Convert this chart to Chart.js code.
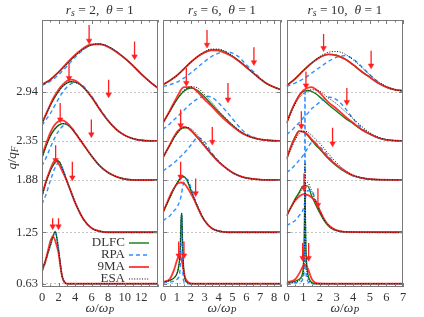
<!DOCTYPE html>
<html>
<head>
<meta charset="utf-8">
<script src="https://cdn.jsdelivr.net/npm/chart.js@4.4.1/dist/chart.umd.min.js"></script>
<style>
html, body { margin: 0; padding: 0; background: #fff; }
body { width: 424px; height: 317px; position: relative; overflow: hidden; }
.panel { position: absolute; top: 0; height: 317px; }
</style>
</head>
<body>
<div class="panel" style="left:0;width:170px"><canvas id="c0"></canvas></div>
<div class="panel" style="left:150px;width:145px"><canvas id="c1"></canvas></div>
<div class="panel" style="left:274px;width:150px"><canvas id="c2"></canvas></div>
<script>
'use strict';

// baselines (q/q_F) each curve is shifted to, also the y tick labels
const qValues = [0.63, 1.25, 1.88, 2.35, 2.94];
const rsValues = [2, 6, 10];

// heights above the baseline
// ---------------- r_s = 2 ----------------
const w2_294 = [0, 1, 2, 3, 4, 5, 6, 7, 8, 9, 10, 11, 12, 13, 14];
const dlfc2_294 = [0.09, 0.15, 0.24, 0.34, 0.44, 0.52, 0.57, 0.58, 0.55, 0.49, 0.41, 0.32, 0.22, 0.13, 0.05];
const rpa2_294 = [0.08, 0.13, 0.21, 0.31, 0.42, 0.51, 0.57, 0.58, 0.55, 0.49, 0.41, 0.32, 0.22, 0.13, 0.05];
const ma2_294 = [0.09, 0.15, 0.24, 0.35, 0.45, 0.53, 0.575, 0.575, 0.545, 0.485, 0.41, 0.32, 0.22, 0.13, 0.05];
const esa2_294 = [0.09, 0.15, 0.24, 0.34, 0.44, 0.52, 0.57, 0.58, 0.55, 0.49, 0.41, 0.32, 0.22, 0.13, 0.05];

const w2_235 = [0, 0.5, 1, 1.5, 2, 2.5, 3, 3.5, 4, 5, 6, 7, 8, 9, 10, 11, 12, 14];
const dlfc2_235 = [0.215, 0.32, 0.43, 0.52, 0.60, 0.66, 0.70, 0.715, 0.71, 0.65, 0.53, 0.38, 0.245, 0.14, 0.07, 0.03, 0.01, 0];
const rpa2_235 = [0.19, 0.26, 0.33, 0.42, 0.51, 0.59, 0.65, 0.69, 0.70, 0.66, 0.54, 0.39, 0.25, 0.14, 0.07, 0.03, 0.01, 0];
const ma2_235 = [0.215, 0.33, 0.44, 0.54, 0.62, 0.68, 0.725, 0.74, 0.73, 0.65, 0.53, 0.38, 0.245, 0.14, 0.07, 0.03, 0.01, 0];
const esa2_235 = [0.215, 0.32, 0.43, 0.52, 0.60, 0.66, 0.70, 0.715, 0.71, 0.65, 0.53, 0.38, 0.245, 0.14, 0.07, 0.03, 0.01, 0];

const w2_188 = [0, 0.5, 1, 1.5, 2, 2.5, 3, 3.5, 4, 5, 6, 7, 8, 9, 10, 12, 14];
const dlfc2_188 = [0.27, 0.41, 0.53, 0.61, 0.66, 0.68, 0.67, 0.63, 0.57, 0.43, 0.29, 0.17, 0.09, 0.04, 0.012, 0, 0];
const rpa2_188 = [0.17, 0.27, 0.39, 0.50, 0.59, 0.65, 0.67, 0.64, 0.58, 0.43, 0.29, 0.17, 0.09, 0.04, 0.012, 0, 0];
const ma2_188 = [0.29, 0.44, 0.57, 0.66, 0.71, 0.72, 0.69, 0.64, 0.57, 0.43, 0.29, 0.17, 0.09, 0.04, 0.012, 0, 0];
const esa2_188 = [0.27, 0.41, 0.53, 0.61, 0.66, 0.68, 0.67, 0.63, 0.57, 0.43, 0.29, 0.17, 0.09, 0.04, 0.012, 0, 0];

const w2_125 = [0, 0.5, 1, 1.25, 1.5, 1.75, 2, 2.5, 3, 3.5, 4, 5, 6, 7, 8, 14];
const dlfc2_125 = [0.44, 0.61, 0.74, 0.79, 0.83, 0.86, 0.86, 0.76, 0.62, 0.49, 0.36, 0.16, 0.05, 0.012, 0, 0];
const rpa2_125 = [0.34, 0.46, 0.62, 0.69, 0.76, 0.81, 0.84, 0.77, 0.63, 0.49, 0.36, 0.16, 0.05, 0.012, 0, 0];
const ma2_125 = [0.44, 0.62, 0.76, 0.82, 0.86, 0.86, 0.83, 0.73, 0.62, 0.49, 0.36, 0.16, 0.05, 0.012, 0, 0];
const esa2_125 = [0.44, 0.61, 0.74, 0.79, 0.83, 0.86, 0.86, 0.76, 0.62, 0.49, 0.36, 0.16, 0.05, 0.012, 0, 0];

const w2_063 = [0, 0.4, 0.8, 1.0, 1.3, 1.6, 1.8, 2.0, 2.2, 2.4, 2.6, 2.8, 3.0, 4, 14];
const dlfc2_063 = [0.165, 0.27, 0.40, 0.46, 0.56, 0.63, 0.55, 0.41, 0.25, 0.10, 0.04, 0.01, 0, 0, 0];
const rpa2_063 = [0.15, 0.25, 0.39, 0.45, 0.55, 0.63, 0.56, 0.42, 0.26, 0.11, 0.04, 0.01, 0, 0, 0];
const ma2_063 = [0.15, 0.27, 0.43, 0.51, 0.57, 0.52, 0.45, 0.37, 0.23, 0.11, 0.04, 0.01, 0, 0, 0];
const esa2_063 = [0.165, 0.27, 0.40, 0.46, 0.56, 0.63, 0.55, 0.41, 0.25, 0.10, 0.04, 0.01, 0, 0, 0];

// ---------------- r_s = 6 ----------------
const w6_294 = [0, 0.5, 1, 1.5, 2, 2.5, 3, 3.5, 4, 4.5, 5, 5.5, 6, 6.5, 7, 7.5, 8, 8.5];
const dlfc6_294 = [0.09, 0.14, 0.20, 0.28, 0.36, 0.43, 0.48, 0.51, 0.51, 0.48, 0.43, 0.37, 0.30, 0.23, 0.16, 0.10, 0.06, 0.03];
const rpa6_294 = [0.07, 0.09, 0.12, 0.17, 0.23, 0.30, 0.37, 0.43, 0.47, 0.49, 0.47, 0.42, 0.33, 0.25, 0.17, 0.10, 0.06, 0.03];
const ma6_294 = [0.09, 0.14, 0.20, 0.28, 0.36, 0.43, 0.48, 0.505, 0.50, 0.47, 0.43, 0.37, 0.30, 0.23, 0.16, 0.10, 0.06, 0.03];
const esa6_294 = [0.09, 0.14, 0.20, 0.28, 0.36, 0.43, 0.49, 0.52, 0.52, 0.49, 0.44, 0.38, 0.31, 0.23, 0.16, 0.10, 0.06, 0.03];

const w6_235 = [0, 0.5, 1, 1.5, 2, 2.5, 3, 3.5, 4, 4.5, 5, 5.5, 6, 6.5, 7, 7.5, 8, 8.5];
const dlfc6_235 = [0.22, 0.36, 0.50, 0.60, 0.64, 0.61, 0.53, 0.44, 0.35, 0.27, 0.19, 0.12, 0.07, 0.04, 0.02, 0.01, 0.004, 0];
const rpa6_235 = [0.14, 0.21, 0.29, 0.37, 0.45, 0.51, 0.54, 0.53, 0.46, 0.37, 0.27, 0.17, 0.09, 0.05, 0.02, 0.01, 0.004, 0];
const ma6_235 = [0.22, 0.37, 0.53, 0.65, 0.65, 0.59, 0.50, 0.42, 0.33, 0.25, 0.18, 0.115, 0.07, 0.04, 0.02, 0.01, 0.004, 0];
const esa6_235 = [0.22, 0.36, 0.50, 0.61, 0.655, 0.64, 0.56, 0.47, 0.37, 0.28, 0.20, 0.13, 0.075, 0.04, 0.02, 0.01, 0.004, 0];

const w6_188 = [0, 0.25, 0.5, 0.75, 1, 1.25, 1.5, 1.75, 2, 2.5, 3, 3.5, 4, 4.5, 5, 5.5, 6, 7, 8.5];
const dlfc6_188 = [0.27, 0.35, 0.42, 0.50, 0.56, 0.61, 0.63, 0.63, 0.60, 0.51, 0.41, 0.31, 0.22, 0.15, 0.09, 0.05, 0.025, 0.005, 0];
const rpa6_188 = [0.11, 0.14, 0.17, 0.20, 0.24, 0.28, 0.32, 0.37, 0.42, 0.51, 0.46, 0.33, 0.23, 0.15, 0.09, 0.05, 0.025, 0.005, 0];
const ma6_188 = [0.27, 0.35, 0.43, 0.51, 0.58, 0.62, 0.64, 0.63, 0.60, 0.51, 0.41, 0.31, 0.22, 0.15, 0.09, 0.05, 0.025, 0.005, 0];
const esa6_188 = [0.27, 0.35, 0.42, 0.50, 0.56, 0.61, 0.63, 0.635, 0.62, 0.54, 0.43, 0.32, 0.23, 0.15, 0.09, 0.05, 0.025, 0.005, 0];

const w6_125 = [0, 0.25, 0.5, 0.75, 1, 1.25, 1.5, 1.75, 2, 2.25, 2.5, 2.75, 3, 3.5, 4, 5, 8.5];
const dlfc6_125 = [0.24, 0.33, 0.42, 0.51, 0.59, 0.65, 0.67, 0.62, 0.51, 0.40, 0.30, 0.21, 0.14, 0.05, 0.015, 0, 0];
const rpa6_125 = [0.14, 0.17, 0.20, 0.25, 0.30, 0.40, 0.60, 0.64, 0.54, 0.42, 0.31, 0.22, 0.14, 0.05, 0.015, 0, 0];
const ma6_125 = [0.24, 0.34, 0.44, 0.52, 0.58, 0.60, 0.59, 0.54, 0.47, 0.39, 0.30, 0.21, 0.14, 0.05, 0.015, 0, 0];
const esa6_125 = [0.24, 0.33, 0.42, 0.51, 0.59, 0.65, 0.67, 0.63, 0.52, 0.41, 0.31, 0.22, 0.14, 0.05, 0.015, 0, 0];

const w6_063 = [0, 0.5, 0.8, 1.0, 1.1, 1.2, 1.25, 1.3, 1.35, 1.4, 1.45, 1.5, 1.6, 1.8, 2.0, 2.5, 8.5];
const dlfc6_063 = [0.02, 0.04, 0.07, 0.12, 0.18, 0.30, 0.45, 0.75, 0.85, 0.55, 0.30, 0.16, 0.05, 0.01, 0, 0, 0];
const rpa6_063 = [0.01, 0.02, 0.03, 0.05, 0.07, 0.12, 0.25, 0.60, 0.85, 0.30, 0.08, 0.03, 0.01, 0, 0, 0, 0];
const ma6_063 = [0.02, 0.06, 0.17, 0.28, 0.32, 0.33, 0.325, 0.31, 0.28, 0.24, 0.19, 0.14, 0.07, 0.02, 0.005, 0, 0];
const esa6_063 = [0.02, 0.04, 0.07, 0.12, 0.18, 0.30, 0.45, 0.75, 0.85, 0.55, 0.30, 0.16, 0.05, 0.01, 0, 0, 0];

// ---------------- r_s = 10 ----------------
const w10_294 = [0, 0.5, 1, 1.5, 2, 2.5, 3, 3.5, 4, 4.5, 5, 5.5, 6, 6.5, 7];
const dlfc10_294 = [0.08, 0.16, 0.26, 0.35, 0.42, 0.455, 0.445, 0.40, 0.33, 0.25, 0.18, 0.11, 0.06, 0.03, 0.016];
const rpa10_294 = [0.07, 0.11, 0.16, 0.23, 0.30, 0.37, 0.42, 0.44, 0.40, 0.31, 0.21, 0.12, 0.06, 0.03, 0.016];
const ma10_294 = [0.08, 0.16, 0.26, 0.35, 0.42, 0.455, 0.44, 0.40, 0.33, 0.25, 0.18, 0.11, 0.06, 0.03, 0.016];
const esa10_294 = [0.08, 0.16, 0.26, 0.35, 0.43, 0.48, 0.49, 0.46, 0.39, 0.30, 0.21, 0.13, 0.07, 0.03, 0.016];

const w10_235 = [0, 0.25, 0.5, 0.75, 1, 1.25, 1.5, 1.75, 2, 2.5, 3, 3.5, 4, 4.5, 5, 5.5, 6, 7];
const dlfc10_235 = [0.22, 0.35, 0.46, 0.55, 0.60, 0.61, 0.60, 0.57, 0.53, 0.44, 0.36, 0.28, 0.21, 0.14, 0.085, 0.04, 0.015, 0];
const rpa10_235 = [0.08, 0.12, 0.17, 0.22, 0.28, 0.33, 0.39, 0.43, 0.47, 0.53, 0.50, 0.40, 0.27, 0.16, 0.09, 0.04, 0.015, 0];
const ma10_235 = [0.22, 0.35, 0.46, 0.55, 0.61, 0.64, 0.65, 0.625, 0.58, 0.47, 0.39, 0.30, 0.22, 0.14, 0.085, 0.04, 0.015, 0];
const esa10_235 = [0.22, 0.34, 0.44, 0.52, 0.57, 0.60, 0.62, 0.615, 0.60, 0.52, 0.45, 0.36, 0.27, 0.18, 0.10, 0.05, 0.02, 0];

const w10_188 = [0, 0.25, 0.5, 0.75, 1, 1.25, 1.5, 1.75, 2, 2.5, 3, 3.5, 4, 4.5, 5, 7];
const dlfc10_188 = [0.26, 0.40, 0.52, 0.59, 0.58, 0.54, 0.48, 0.42, 0.37, 0.26, 0.17, 0.10, 0.05, 0.025, 0.01, 0];
const rpa10_188 = [0.09, 0.13, 0.18, 0.24, 0.30, 0.38, 0.45, 0.44, 0.40, 0.29, 0.18, 0.10, 0.05, 0.025, 0.01, 0];
const ma10_188 = [0.26, 0.40, 0.51, 0.59, 0.585, 0.55, 0.49, 0.44, 0.38, 0.27, 0.18, 0.11, 0.055, 0.025, 0.01, 0];
const esa10_188 = [0.25, 0.37, 0.48, 0.56, 0.59, 0.58, 0.54, 0.49, 0.44, 0.32, 0.21, 0.12, 0.06, 0.03, 0.01, 0];

const w10_125 = [0, 0.25, 0.5, 0.75, 1, 1.25, 1.5, 1.75, 2, 2.25, 2.5, 2.75, 3, 3.5, 7];
const dlfc10_125 = [0.20, 0.30, 0.40, 0.48, 0.56, 0.56, 0.44, 0.33, 0.23, 0.14, 0.08, 0.04, 0.02, 0.005, 0];
const rpa10_125 = [0.08, 0.11, 0.14, 0.20, 0.28, 0.50, 0.50, 0.38, 0.26, 0.15, 0.09, 0.045, 0.02, 0.005, 0];
const ma10_125 = [0.20, 0.30, 0.38, 0.43, 0.46, 0.45, 0.42, 0.37, 0.26, 0.16, 0.09, 0.05, 0.025, 0.005, 0];
const esa10_125 = [0.20, 0.29, 0.38, 0.46, 0.55, 0.60, 0.50, 0.37, 0.25, 0.15, 0.09, 0.045, 0.02, 0.005, 0];

const w10_063 = [0, 0.5, 0.8, 0.9, 0.95, 1.0, 1.05, 1.08, 1.1, 1.12, 1.15, 1.2, 1.25, 1.3, 1.4, 1.5, 1.6, 1.8, 2.5, 7];
const dlfc10_063 = [0.01, 0.03, 0.06, 0.09, 0.12, 0.20, 0.50, 0.90, 1.10, 0.80, 0.45, 0.25, 0.15, 0.09, 0.04, 0.015, 0.005, 0, 0, 0];
const rpa10_063 = [0.005, 0.01, 0.02, 0.03, 0.05, 0.08, 0.20, 0.80, 2.35, 0.90, 0.20, 0.08, 0.04, 0.02, 0.01, 0, 0, 0, 0, 0];
const ma10_063 = [0.02, 0.05, 0.14, 0.18, 0.20, 0.22, 0.23, 0.23, 0.23, 0.23, 0.22, 0.21, 0.19, 0.17, 0.11, 0.06, 0.03, 0.005, 0, 0];
const esa10_063 = [0.005, 0.02, 0.04, 0.06, 0.08, 0.12, 0.30, 0.90, 1.45, 1.20, 0.50, 0.20, 0.10, 0.05, 0.02, 0.01, 0, 0, 0, 0];

// red arrows: [omega, top of shaft, tip] in q/q_F units
const arrows2 = [[5.7, 3.75, 3.56], [11.2, 3.55, 3.37], [3.27, 3.29, 3.11], [8.06, 3.09, 2.91],
	[2.2, 2.81, 2.61], [5.97, 2.61, 2.43], [1.65, 2.30, 2.12], [3.67, 2.10, 1.91], [1.29, 1.42, 1.32], [2.0, 1.42, 1.32]];
const arrows6 = [[3.17, 3.69, 3.51], [6.55, 3.48, 3.30], [1.68, 3.23, 3.05], [4.68, 3.05, 2.85],
	[1.27, 2.73, 2.54], [3.55, 2.52, 2.34], [1.27, 2.10, 1.92], [2.35, 1.90, 1.72], [1.13, 1.14, 0.97], [1.51, 1.14, 0.97]];
const arrows10 = [[2.22, 3.64, 3.47], [5.08, 3.44, 3.26], [1.16, 3.19, 3.02], [3.62, 2.99, 2.82],
	[0.88, 2.71, 2.53], [2.76, 2.51, 2.32], [1.04, 1.96, 1.78], [1.88, 1.78, 1.58], [0.96, 1.12, 0.94], [1.32, 1.12, 0.94]];

const FONT = '"Liberation Serif", "DejaVu Serif", serif';
const TEXT = '#333';
const FRAME = '#7a7a7a';
const RED = '#ff1f1f';

const series = [
	{label: 'DLFC', color: '#137a13', width: 1.4, dash: [], order: 4},
	{label: 'RPA', color: '#2f8fff', width: 1.4, dash: [4, 3], order: 3},
	{label: '9MA', color: 'rgba(255,30,30,0.9)', width: 1.8, dash: [], order: 2},
	{label: 'ESA', color: '#111', width: 1.0, dash: [1, 1.6], order: 1}
];

const panels = [
	{rs: rsValues[0], xMax: 14, xLabels: [0, 2, 4, 6, 8, 10, 12], minor: 1, axisW: 42, padR: 12.3, showY: true,
		curves: [[w2_063, dlfc2_063, rpa2_063, ma2_063, esa2_063], [w2_125, dlfc2_125, rpa2_125, ma2_125, esa2_125],
			[w2_188, dlfc2_188, rpa2_188, ma2_188, esa2_188], [w2_235, dlfc2_235, rpa2_235, ma2_235, esa2_235],
			[w2_294, dlfc2_294, rpa2_294, ma2_294, esa2_294]], arrows: arrows2},
	{rs: rsValues[1], xMax: 8.5, xLabels: [0, 1, 2, 3, 4, 5, 6, 7, 8], minor: 0.5, axisW: 13, padR: 14, showY: false,
		curves: [[w6_063, dlfc6_063, rpa6_063, ma6_063, esa6_063], [w6_125, dlfc6_125, rpa6_125, ma6_125, esa6_125],
			[w6_188, dlfc6_188, rpa6_188, ma6_188, esa6_188], [w6_235, dlfc6_235, rpa6_235, ma6_235, esa6_235],
			[w6_294, dlfc6_294, rpa6_294, ma6_294, esa6_294]], arrows: arrows6},
	{rs: rsValues[2], xMax: 7, xLabels: [0, 1, 2, 3, 4, 5, 6, 7], minor: 0.5, axisW: 12.7, padR: 21, showY: false,
		curves: [[w10_063, dlfc10_063, rpa10_063, ma10_063, esa10_063], [w10_125, dlfc10_125, rpa10_125, ma10_125, esa10_125],
			[w10_188, dlfc10_188, rpa10_188, ma10_188, esa10_188], [w10_235, dlfc10_235, rpa10_235, ma10_235, esa10_235],
			[w10_294, dlfc10_294, rpa10_294, ma10_294, esa10_294]], arrows: arrows10}
];

/** Draws a run of text pieces; style 'i' = italic, 's' = subscript. */
function drawRich(ctx, parts, x, y, size) {
	let total = 0;
	const runs = parts.map(([t, st]) => {
		const sub = st.includes('s');
		const sz = sub ? size * 0.72 : size;
		ctx.font = (st.includes('i') ? 'italic ' : '') + sz + 'px ' + FONT;
		const w = ctx.measureText(t).width;
		total += w;
		return {t, font: ctx.font, w, dy: sub ? size * 0.28 : 0};
	});
	let cx = x - total / 2;
	ctx.textAlign = 'left';
	ctx.textBaseline = 'middle';
	for (const r of runs) {
		ctx.font = r.font;
		ctx.fillText(r.t, cx, y + r.dy);
		cx += r.w;
	}
}

const decorPlugin = {
	id: 'decor',
	afterDraw(chart, args, opts) {
		const {ctx, chartArea: a, scales} = chart;
		ctx.save();
		// frame
		ctx.strokeStyle = FRAME;
		ctx.lineWidth = 1;
		ctx.strokeRect(Math.round(a.left) + 0.5, Math.round(a.top) + 0.5, Math.round(a.right - a.left) - 1, Math.round(a.bottom - a.top) - 1);
		// inward ticks on top and bottom
		ctx.beginPath();
		for (let v = 0; v <= opts.xMax + 1e-9; v += opts.minor) {
			const px = Math.round(scales.x.getPixelForValue(v)) + 0.5;
			const len = opts.xLabels.includes(v) ? 4 : 2.5;
			ctx.moveTo(px, a.bottom); ctx.lineTo(px, a.bottom - len);
			ctx.moveTo(px, a.top); ctx.lineTo(px, a.top + len);
		}
		for (const q of qValues) {
			const py = Math.round(scales.y.getPixelForValue(q)) + 0.5;
			ctx.moveTo(a.left, py); ctx.lineTo(a.left + 4, py);
			ctx.moveTo(a.right, py); ctx.lineTo(a.right - 4, py);
		}
		ctx.stroke();
		// texts
		ctx.fillStyle = TEXT;
		const cx = (a.left + a.right) / 2;
		drawRich(ctx, [['r', 'i'], ['s', 'is'], [' = ' + opts.rs + ',  ', ''], ['θ', 'i'], [' = 1', '']], cx, 10, 13.5);
		drawRich(ctx, [['ω', 'i'], ['/', ''], ['ω', 'i'], ['P', 'is']], cx, 308, 13.5);
		if (opts.showY) {
			ctx.save();
			ctx.translate(12, 158);
			ctx.rotate(-Math.PI / 2);
			drawRich(ctx, [['q', 'i'], ['/', ''], ['q', 'i'], ['F', 'is']], 0, 0, 13.5);
			ctx.restore();
			// legend
			const rows = [243, 255, 267, 279];
			series.forEach((s, i) => {
				ctx.font = '13px ' + FONT;
				ctx.textAlign = 'right';
				ctx.textBaseline = 'middle';
				ctx.fillStyle = TEXT;
				ctx.fillText(s.label, 125, rows[i]);
				ctx.strokeStyle = s.color;
				ctx.lineWidth = s.width;
				ctx.setLineDash(s.dash);
				ctx.beginPath();
				ctx.moveTo(129, rows[i]);
				ctx.lineTo(149, rows[i]);
				ctx.stroke();
				ctx.setLineDash([]);
			});
		}
		ctx.restore();
	}
};

function buildDatasets(panel) {
	const sets = [];
	panel.curves.forEach((c, ci) => {
		const w = c[0];
		series.forEach((s, si) => {
			sets.push({
				label: s.label,
				data: w.map((x, i) => ({x: x, y: qValues[ci] + c[si + 1][i]})),
				borderColor: s.color,
				borderWidth: s.width,
				borderDash: s.dash,
				pointRadius: 0,
				cubicInterpolationMode: 'monotone',
				order: s.order,
				fill: false
			});
		});
	});
	const arrowData = [];
	for (const [x, top, tip] of panel.arrows) {
		arrowData.push({x: x, y: top}, {x: x, y: tip}, {x: x, y: null});
	}
	sets.push({
		label: 'arrows',
		data: arrowData,
		borderColor: RED,
		borderWidth: 1.3,
		spanGaps: false,
		tension: 0,
		pointStyle: 'triangle',
		rotation: 180,
		pointRadius: ctx => (ctx.dataIndex % 3 === 1 ? 3.2 : 0),
		pointBackgroundColor: RED,
		pointBorderColor: RED,
		pointBorderWidth: 0.5,
		order: 0
	});
	return sets;
}

panels.forEach((p, idx) => {
	new Chart(document.getElementById('c' + idx), {
		type: 'line',
		data: {datasets: buildDatasets(p)},
		options: {
			animation: false,
			responsive: true,
			maintainAspectRatio: false,
			events: [],
			layout: {padding: {left: 0, right: p.padR, top: 20, bottom: 0}},
			plugins: {
				legend: {display: false},
				tooltip: {enabled: false},
				decor: {rs: p.rs, xMax: p.xMax, xLabels: p.xLabels, minor: p.minor, showY: p.showY}
			},
			scales: {
				x: {
					type: 'linear',
					min: 0,
					max: p.xMax,
					afterBuildTicks: scale => { scale.ticks = p.xLabels.map(v => ({value: v})); },
					afterFit: scale => { scale.height = 30; },
					grid: {display: false, drawTicks: false},
					border: {display: false},
					ticks: {color: TEXT, font: {family: FONT, size: 12.5}, padding: 3, maxRotation: 0, autoSkip: false}
				},
				y: {
					type: 'linear',
					min: 0.59,
					max: 3.81,
					afterBuildTicks: scale => { scale.ticks = qValues.map(v => ({value: v})); },
					afterFit: scale => { scale.width = p.axisW; },
					grid: {color: '#b5b5b5', lineWidth: 0.8, drawTicks: false},
					border: {display: false, dash: [2, 2]},
					ticks: {
						display: p.showY,
						color: TEXT,
						font: {family: FONT, size: 12.5},
						padding: 4,
						callback: v => v.toFixed(2)
					}
				}
			}
		},
		plugins: [decorPlugin]
	});
});
</script>
</body>
</html>
